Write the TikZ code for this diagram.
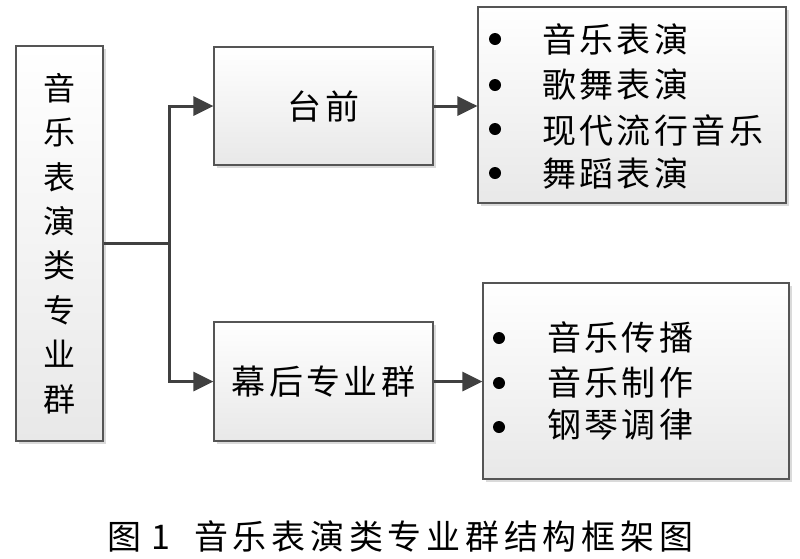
\documentclass[tikz,border=0pt]{standalone}
\usepackage{fontspec}
\newfontfamily\cjk{Noto Sans CJK SC}
\newfontfamily\cjkls{Noto Sans CJK SC}[LetterSpace=10]
\newfontfamily\cjkcap{Noto Sans CJK SC}[LetterSpace=14]
\usetikzlibrary{shadows,arrows.meta}
\definecolor{edge}{HTML}{555555}
\definecolor{wire}{HTML}{404040}
\tikzset{
  boxstyle/.style={draw=edge, line width=1.2pt, top color=white, bottom color=black!9,
    drop shadow={shadow xshift=3pt, shadow yshift=-3pt, fill=black!18, opacity=0.8},
    inner sep=0pt, font=\cjkls\fontsize{34}{40}\selectfont},
  wireline/.style={draw=wire, line width=3pt},
  arr/.style={wireline, -{Triangle[length=20pt,width=19pt]}},
  item/.style={anchor=west, inner sep=0pt, font=\cjkls\fontsize{34}{40}\selectfont},
  dot/.style={fill=black},
}
\begin{document}
\begin{tikzpicture}[x=1pt,y=-1pt]
\useasboundingbox (0,0) rectangle (800,558);
\node[boxstyle, minimum width=87pt, minimum height=395pt, align=center,
  font=\cjk\fontsize{32}{44.4}\selectfont] (root) at (59.5,243.5) {音\\乐\\表\\演\\类\\专\\业\\群};
\node[boxstyle, minimum width=219pt, minimum height=118pt] (front) at (323.5,106) {台前};
\node[boxstyle, minimum width=219pt, minimum height=119pt] (back) at (323.5,381.5) {幕后专业群};
\node[boxstyle, minimum width=308pt, minimum height=196pt] (list1) at (632,105) {};
\node[boxstyle, minimum width=306pt, minimum height=196pt] (list2) at (636,381) {};
\coordinate (j) at (169,243.5);
\draw[wireline] (root.east) -- (j);
\draw[arr] (j) |- (front.west);
\draw[arr] (j) |- (back.west);
\draw[arr] (front.east) -- (front.east -| list1.west);
\draw[arr] (back.east) -- (back.east -| list2.west);
% top list
\fill[dot] (495,39) circle (6);
\fill[dot] (495,85) circle (6);
\fill[dot] (495,129) circle (6);
\fill[dot] (495,173) circle (6);
\node[item] (a1) at (542,39) {音乐表演};
\node[item] (a2) at (542,85) {歌舞表演};
\node[item] (a3) at (542,130) {现代流行音乐};
\node[item] (a4) at (542,174) {舞蹈表演};
% bottom list
\fill[dot] (499,338) circle (6);
\fill[dot] (499,383) circle (6);
\fill[dot] (499,427) circle (6);
\node[item] (b1) at (547,337) {音乐传播};
\node[item] (b2) at (547,382) {音乐制作};
\node[item] (b3) at (547,425) {钢琴调律};
% caption
\node[font=\cjkcap\fontsize{34}{40}\selectfont, inner sep=0pt, anchor=west] (cap) at (107,536) {图\hspace{10pt}1\hspace{24pt}音乐表演类专业群结构框架图};
\end{tikzpicture}
\end{document}
